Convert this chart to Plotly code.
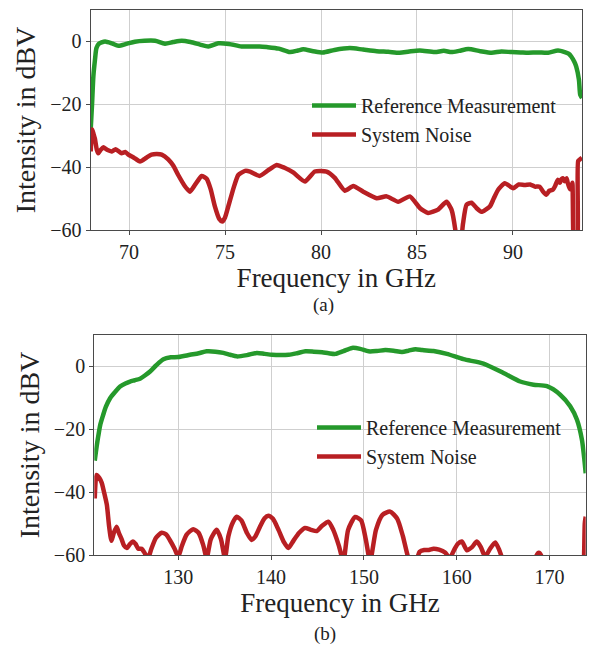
import plotly.graph_objects as go
from plotly.subplots import make_subplots

# ---- (a) 68-93.6 GHz band ----
freq_a_ref = [68.0, 68.07, 68.14, 68.22, 68.3, 68.42, 68.57, 68.75, 69.1, 69.44, 69.9,
              70.3, 70.8, 71.35, 71.87, 72.3, 72.74, 73.2, 73.7, 74.13, 74.65, 75.2,
              75.86, 76.3, 76.8, 77.17, 77.8, 78.38, 78.8, 79.07, 79.6, 80.1, 80.7,
              81.5, 82.2, 82.9, 83.5, 84.1, 84.6, 85.15, 85.93, 86.4, 86.8, 87.2,
              87.67, 88.3, 88.89, 89.4, 89.93, 90.4, 90.8, 91.3, 91.84, 92.35, 92.7,
              92.9, 93.04, 93.2, 93.3, 93.44, 93.51, 93.6]
ref_a = [-28, -20, -11, -6, -2.1, -0.8, -0.3, 0.0, -0.6, -1.4, -0.7,
         -0.1, 0.2, 0.2, -0.7, -0.2, 0.2, -0.2, -1.0, -1.6, -0.6, -0.8,
         -1.6, -1.6, -1.6, -1.8, -2.3, -3.4, -2.9, -2.5, -3.1, -3.5, -2.7,
         -2.1, -2.6, -3.1, -3.3, -3.6, -3.2, -2.9, -3.4, -3.0, -3.4, -3.0,
         -2.4, -3.1, -3.6, -3.2, -3.4, -3.5, -3.6, -3.5, -3.6, -2.9, -3.4,
         -3.9, -4.8, -6.5, -8.0, -12.2, -17.0, -18.0]

freq_a_noise = [68.0, 68.08, 68.15, 68.22, 68.32, 68.4, 68.52, 68.66, 68.85, 69.1, 69.3,
                69.6, 69.8, 69.96, 70.25, 70.57, 70.9, 71.17, 71.45, 71.7, 72.04, 72.3,
                72.56, 72.9, 73.17, 73.45, 73.78, 74.04, 74.25, 74.47, 74.7, 74.85,
                75.0, 75.17, 75.45, 75.69, 76.04, 76.3, 76.8, 77.2, 77.69, 78.1, 78.55,
                79.16, 79.68, 80.29, 80.72, 81.24, 81.68, 82.2, 82.9, 83.42, 84.02,
                84.63, 85.15, 85.58, 86.1, 86.54, 86.8, 87.0, 87.1, 87.23, 87.4, 87.58,
                87.84, 88.1, 88.36, 88.8, 89.0, 89.23, 89.58, 90.01, 90.3, 90.62, 90.9,
                91.14, 91.39, 91.57, 91.74, 91.9, 92.08, 92.2, 92.34, 92.45, 92.53,
                92.6, 92.7, 92.8, 92.86, 92.97, 93.04, 93.1, 93.16, 93.25, 93.35,
                93.4, 93.5, 93.6]
noise_a = [-35, -28, -29.5, -31, -34.5, -35.6, -34.5, -33.7, -34.5, -35, -34.3,
           -35.6, -35.2, -36, -37, -38.2, -37, -36, -35.8, -36, -37.5, -39.5,
           -42.5, -46, -47.8, -45.5, -42.8, -43.7, -47, -52.5, -56.5, -57.3,
           -56, -52.5, -46.5, -42.5, -41.2, -41.4, -42.8, -41.2, -39.3, -40.2, -41.7,
           -44.6, -41.4, -41.4, -43.4, -47.5, -46, -47.8, -49.9, -49.3, -51,
           -49.3, -53, -54.6, -53.5, -51, -53.5, -60, -66, -66, -58, -52,
           -51.3, -53, -54.2, -52.5, -50, -47.2, -45.1, -46.7, -45.5, -45.7, -45.5,
           -46.2, -46.2, -47.8, -48.8, -47.5, -47.2, -46, -44, -45, -43.8,
           -43.5, -44.5, -43.5, -45.1, -47, -46.7, -45, -64, -66, -66,
           -38, -37.5, -37]

# ---- (b) 121-174 GHz band ----
freq_b_ref = [121.0, 121.2, 121.37, 121.6, 121.91, 122.2, 122.65, 123.2, 123.73, 124.3,
              124.8, 125.3, 125.88, 126.4, 126.96, 127.6, 128.4, 129.2, 130.0, 131.26,
              132.2, 133.06, 134.0, 134.86, 135.6, 136.3, 137.4, 138.46, 139.3, 140.1,
              141.0, 141.9, 142.8, 143.7, 144.6, 145.5, 146.2, 146.93, 147.8, 148.73,
              149.6, 150.5, 151.4, 152.3, 153.2, 154.1, 154.8, 155.56, 156.3, 157.5,
              158.94, 160.73, 162.88, 165.04, 166.84, 168.28, 169.72, 171.15, 172.23,
              172.95, 173.49, 173.77, 173.9]
ref_b = [-30, -25.5, -22.3, -18.5, -15.4, -12.8, -10.1, -8.1, -6.4, -5.4,
         -4.8, -4.4, -3.9, -2.9, -1.6, 0.3, 2.3, 2.9, 3.0, 3.7,
         4.2, 4.8, 4.7, 4.3, 3.7, 3.2, 3.6, 4.3, 4.0, 3.7,
         3.6, 3.7, 4.2, 4.8, 4.7, 4.5, 4.2, 4.0, 4.9, 5.9,
         5.6, 4.8, 4.9, 5.2, 5.0, 4.6, 5.0, 5.5, 5.2, 4.9,
         4.0, 2.3, 0.9, -2.1, -4.8, -5.8, -6.3, -9.0, -12.7,
         -16.9, -23.3, -30.0, -34.0]

freq_b_noise = [121.0, 121.2, 121.5, 121.75, 122.0, 122.3, 122.55, 122.8, 123.05, 123.35,
                123.6, 123.9, 124.15, 124.45, 124.8, 125.1, 125.4, 125.7, 126.05, 126.4,
                126.75, 127.1, 127.6, 128.2, 128.7, 129.1, 129.6, 130.0, 130.4, 130.9,
                131.6, 132.2, 132.7, 133.06, 133.5, 134.14, 134.6, 135.03, 135.4, 135.9,
                136.3, 136.8, 137.4, 137.9, 138.3, 138.8, 139.3, 139.7, 140.2, 140.8,
                141.4, 141.86, 142.4, 143.0, 143.66, 144.3, 144.92, 145.5, 146.17, 146.7,
                147.3, 147.79, 148.3, 149.05, 149.7, 150.2, 150.67, 151.3, 152.0, 152.83,
                153.6, 154.2, 154.8, 155.4, 156.0, 156.5, 157.0, 157.5, 158.1, 158.75,
                159.25, 159.7, 160.1, 160.55, 161.1, 161.65, 162.17, 162.6, 163.07,
                163.6, 164.15, 164.6, 165.0, 165.5, 168.2, 168.55, 168.85, 169.15,
                169.5, 173.5, 173.7, 173.8, 173.9]
noise_b = [-42, -34.5, -35.5, -37, -40, -44, -51, -55.5, -53, -51,
           -53, -55, -57, -57.8, -56.5, -55.7, -56.5, -58, -58, -59.5,
           -61, -58, -54.5, -52.9, -53.5, -55.3, -58, -60.5, -57, -53.5,
           -51.8, -53, -57, -61, -55, -52, -55, -61, -54, -49.5,
           -47.8, -49, -53, -55.2, -54.1, -51, -48.3, -47.5, -48.5, -52,
           -56, -57.8, -55.5, -53, -51.4, -52, -52.4, -50.7, -49.4, -52,
           -57, -62, -52, -47.9, -49, -55, -62, -52, -47.2, -46.2,
           -48.5, -54, -61, -64, -59, -58.4, -58.4, -58, -58.3, -59.2,
           -61, -58.5, -56.5, -55.7, -58.5, -57.5, -55.7, -57.5, -60.5,
           -58, -56, -58.5, -62, -66, -66, -60.5, -59.3, -60.5,
           -66, -66, -62, -50, -47.8]

ref_name = "Reference Measurement"
noise_name = "System Noise"
green = "#25992b"
red = "#b81f23"
serif = "Liberation Serif, Times New Roman, serif"
ink = "#222"

fig = make_subplots(rows=2, cols=1)

fig.add_trace(go.Scatter(x=freq_a_ref, y=ref_a, name=ref_name, mode="lines",
                         line=dict(color=green, width=4.5, shape="spline", smoothing=0.7),
                         legend="legend"), row=1, col=1)
fig.add_trace(go.Scatter(x=freq_a_noise, y=noise_a, name=noise_name, mode="lines",
                         line=dict(color=red, width=4.5, shape="spline", smoothing=0.5),
                         legend="legend"), row=1, col=1)
fig.add_trace(go.Scatter(x=freq_b_ref, y=ref_b, name=ref_name, mode="lines",
                         line=dict(color=green, width=4.5, shape="spline", smoothing=0.7),
                         legend="legend2"), row=2, col=1)
fig.add_trace(go.Scatter(x=freq_b_noise, y=noise_b, name=noise_name, mode="lines",
                         line=dict(color=red, width=4.5, shape="spline", smoothing=0.6),
                         legend="legend2"), row=2, col=1)

W, H = 589, 647

axis_style = dict(showline=True, mirror=True, linecolor="#4a4a4a", linewidth=1.3,
                  showgrid=True, gridcolor="#cfcfcf", gridwidth=1, zeroline=False,
                  ticks="outside", ticklen=4, tickcolor="#4a4a4a", automargin=True,
                  tickfont=dict(family=serif, size=20, color=ink))

fig.update_xaxes(**axis_style)
fig.update_yaxes(**axis_style)

xtitle_font = dict(family=serif, size=27, color=ink)
ytitle_font = dict(family=serif, size=28, color=ink)
legend_font = dict(family=serif, size=20, color=ink)

fig.update_layout(
    xaxis=dict(domain=[90.7 / W, 582 / W], range=[68, 93.6], tick0=70, dtick=5,
               title=dict(text="Frequency in GHz", standoff=2, font=xtitle_font)),
    yaxis=dict(domain=[1 - 230 / H, 1 - 10 / H], range=[-60, 10],
               tickvals=[-60, -40, -20, 0],
               title=dict(text="Intensity in dBV", standoff=6, font=ytitle_font)),
    xaxis2=dict(domain=[94.3 / W, 585.7 / W], range=[120.95, 173.9], tick0=130, dtick=10,
                title=dict(text="Frequency in GHz", standoff=2, font=xtitle_font)),
    yaxis2=dict(domain=[1 - 555 / H, 1 - 335 / H], range=[-60, 10],
                tickvals=[-60, -40, -20, 0],
                title=dict(text="Intensity in dBV", standoff=6, font=ytitle_font)),
    legend=dict(x=307 / W, y=1 - 86 / H, xanchor="left", yanchor="top",
                bgcolor="rgba(0,0,0,0)", borderwidth=0, itemwidth=44,
                font=legend_font),
    legend2=dict(x=312 / W, y=1 - 408 / H, xanchor="left", yanchor="top",
                 bgcolor="rgba(0,0,0,0)", borderwidth=0, itemwidth=44,
                 font=legend_font),
    annotations=[
        dict(text="(a)", x=323 / W, y=1 - 305 / H, xref="paper", yref="paper",
             xanchor="center", yanchor="middle", showarrow=False,
             font=dict(family=serif, size=19, color=ink)),
        dict(text="(b)", x=325 / W, y=1 - 634 / H, xref="paper", yref="paper",
             xanchor="center", yanchor="middle", showarrow=False,
             font=dict(family=serif, size=19, color=ink)),
    ],
    width=W, height=H,
    margin=dict(l=0, r=0, t=0, b=0, autoexpand=False),
    paper_bgcolor="white", plot_bgcolor="white",
    showlegend=True,
)

fig.write_html("out.html")
